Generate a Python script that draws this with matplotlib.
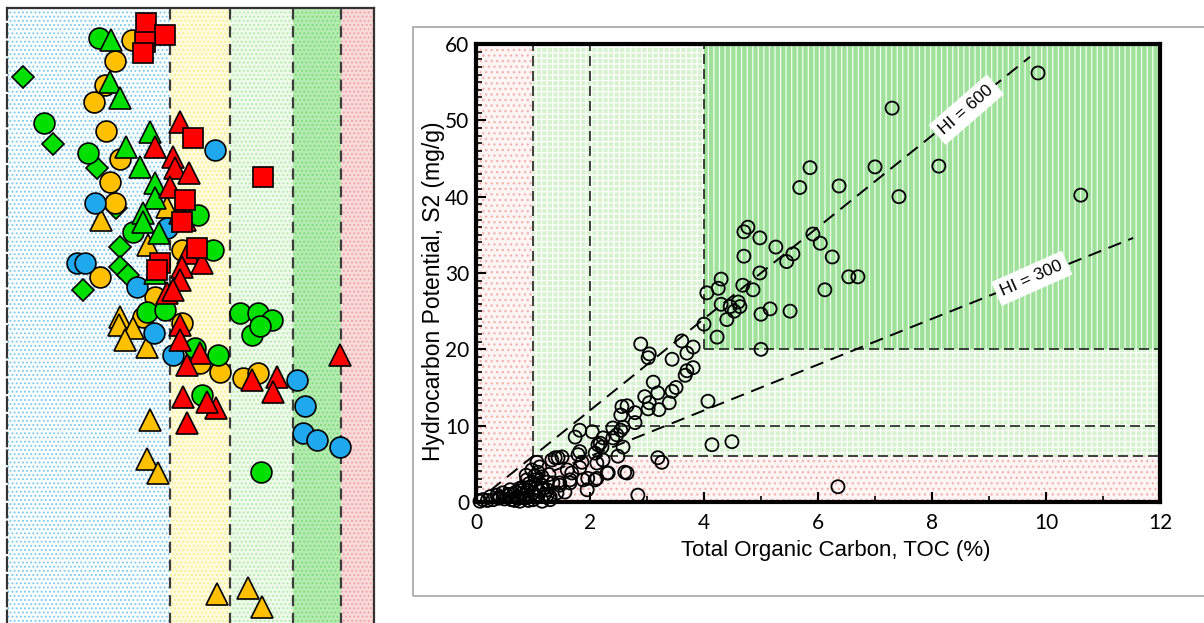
import numpy as np
import matplotlib.pyplot as plt
from matplotlib.patches import Rectangle

plt.rcParams.update({
    "font.family": "Liberation Sans",
    "hatch.linewidth": 0.9,
})

# ---------------- left strip: zones and samples (strip units) ----------------
zone_edges = [7, 170, 230, 293, 341, 374]
zone_faces = ["#ffffff", "#fffcdc", "#eefaea", "#b4ecb0", "#f9dada"]
zone_dots = ["#7ccbef", "#f4ec94", "#b4eaac", "#84d880", "#f0a4a4"]

red_sq_x = [146, 165, 145, 143, 193, 263, 185, 182, 197, 160, 157]
red_sq_y = [23, 35, 42, 53, 138, 177, 200, 222, 248, 263, 270]

red_tri_x = [180, 155, 173, 175, 189, 170, 180, 185, 188, 202, 182, 180, 167, 173,
             180, 180, 200, 187, 252, 277, 273, 340, 183, 216, 207, 187]
red_tri_y = [122, 147, 157, 168, 173, 187, 213, 220, 253, 263, 267, 280, 293, 290,
             325, 340, 353, 365, 380, 377, 392, 355, 397, 408, 402, 423]

grn_cir_x = [99, 44, 88, 198, 133, 213, 147, 165, 240, 258, 272, 252, 260, 195, 218, 202, 261]
grn_cir_y = [38, 123, 153, 215, 232, 250, 312, 310, 313, 313, 320, 335, 326, 348, 355, 395, 472]

grn_tri_x = [111, 110, 120, 150, 126, 140, 155, 155, 143, 143, 159, 155]
grn_tri_y = [40, 82, 98, 132, 147, 167, 183, 198, 213, 222, 233, 273]

grn_dia_x = [23, 53, 97, 116, 120, 120, 128, 83]
grn_dia_y = [77, 144, 168, 208, 247, 267, 275, 290]

org_cir_x = [132, 115, 105, 94, 106, 120, 110, 115, 182, 100, 155, 143, 182, 200, 220, 243, 258]
org_cir_y = [40, 61, 85, 102, 131, 159, 182, 203, 250, 277, 297, 317, 323, 363, 372, 378, 373]

org_tri_x = [101, 167, 148, 120, 119, 133, 125, 147, 150, 147, 158, 217, 248, 262]
org_tri_y = [220, 207, 245, 317, 325, 328, 340, 347, 420, 459, 473, 595, 588, 608]

blu_cir_x = [215, 95, 167, 77, 85, 137, 154, 173, 297, 305, 303, 317, 340]
blu_cir_y = [150, 203, 228, 263, 263, 287, 333, 355, 380, 406, 433, 440, 447]

# ---------------- right panel: TOC vs S2 ----------------
toc = [9.86, 7.30, 5.86, 7.00, 8.12, 5.68, 6.37, 7.42, 10.61, 4.77, 4.70, 4.98, 5.26,
       5.91, 6.04, 5.56, 5.45, 6.25, 4.70, 4.98, 6.54, 6.70, 4.30, 4.25, 4.68, 4.86,
       6.12, 4.05, 4.30, 4.46, 4.60, 4.63, 4.53, 4.40, 5.00, 5.16, 5.51, 4.00, 4.23,
       5.00, 3.81, 6.35,
       2.89, 3.04, 3.02, 3.44, 3.61, 3.70, 3.81, 3.70, 3.67, 3.11, 3.19, 3.44, 3.51,
       2.96, 3.04, 3.02, 3.21, 3.39, 4.07, 2.56, 2.65, 2.54, 2.79, 2.58, 2.79, 2.40,
       2.54, 2.04, 1.82, 1.74, 2.23, 2.18, 2.21, 2.40, 2.58, 2.49, 4.14, 4.49, 3.19,
       3.26, 1.79, 1.86, 2.12, 1.82, 2.32, 2.65, 1.51, 1.68, 1.65, 1.96, 2.12, 1.95,
       1.56, 2.84, 1.47, 2.47, 2.14, 2.09, 2.23, 1.82, 1.39, 1.33, 1.44, 1.60, 1.88,
       2.09, 2.30, 2.61, 1.07, 1.09, 1.16, 1.04, 1.25, 0.89, 1.35, 1.47, 1.65, 0.77,
       0.60, 0.47, 0.37, 0.25, 0.12, 0.07, 1.07, 1.25, 1.42, 1.30, 0.72, 0.86, 1.00,
       1.16, 0.77, 1.30, 1.25, 0.50, 0.55, 0.62, 0.66, 0.70, 0.75, 0.80, 0.85, 0.90,
       0.95, 1.00, 1.05, 1.10, 1.15, 1.20, 0.30, 0.20, 0.42, 0.92, 0.88, 1.12, 0.98,
       0.58, 0.68, 0.82, 1.03, 1.18, 1.28, 0.93, 0.40]
s2 = [56.2, 51.6, 43.8, 43.9, 44.0, 41.2, 41.4, 40.0, 40.2, 36.0, 35.4, 34.6, 33.4,
      35.1, 33.9, 32.5, 31.5, 32.1, 32.2, 30.0, 29.5, 29.5, 29.2, 28.0, 28.4, 27.8,
      27.8, 27.4, 25.9, 25.6, 26.2, 25.6, 25.0, 23.9, 24.6, 25.3, 25.0, 23.3, 21.6,
      20.0, 20.3, 2.0,
      20.7, 19.4, 18.9, 18.7, 21.1, 19.5, 17.6, 17.2, 16.6, 15.7, 14.3, 14.5, 15.0,
      13.8, 13.0, 12.2, 12.1, 13.0, 13.2, 12.5, 12.6, 11.4, 11.7, 9.8, 10.4, 9.7,
      9.4, 9.2, 9.4, 8.5, 8.4, 7.7, 7.2, 8.4, 7.2, 6.0, 7.5, 7.9, 5.8,
      5.2, 6.2, 5.2, 5.1, 4.5, 3.8, 3.8, 5.9, 3.8, 2.9, 3.1, 3.1, 1.6,
      1.3, 0.9, 2.5, 8.8, 7.5, 6.4, 5.5, 6.6, 5.8, 5.5, 5.8, 4.2, 2.9,
      2.9, 3.8, 3.9, 5.2, 3.9, 3.3, 2.9, 2.6, 2.9, 2.5, 2.2, 2.5, 1.8,
      1.6, 1.2, 0.9, 0.7, 0.3, 0.1, 1.8, 1.6, 1.2, 0.7, 0.7, 0.5, 0.3,
      0.1, 0.1, 0.3, 0.9, 0.4, 0.8, 0.3, 1.0, 1.3, 0.5, 1.1, 0.9, 1.5,
      2.0, 1.2, 0.8, 1.5, 2.2, 1.0, 0.3, 0.2, 0.6, 0.2, 3.5, 4.6, 4.2,
      1.0, 0.2, 1.9, 3.4, 1.8, 3.6, 2.4, 0.5]

bound_toc = [1, 2, 4]
bound_s2 = [6, 10, 20]
hi_lines = [600, 300]
hi_toc_range = [(0.25, 9.72), (0.3, 11.53)]

fig = plt.figure(figsize=(12.04, 6.23), dpi=100)

# ---------- left strip ----------
axL = fig.add_axes([7 / 1204, -0.02, 367 / 1204, 1 - 8 / 623 + 0.02])
for i in range(len(zone_faces)):
    axL.axvspan(zone_edges[i], zone_edges[i + 1], facecolor=zone_faces[i],
                edgecolor=zone_dots[i], hatch="....", lw=0, zorder=0)
for xe in zone_edges[1:-1]:
    axL.axvline(xe, color="#3c3c3c", lw=1.6, ls=(0, (5, 3)), zorder=1)

mk = dict(ls="none", mec="black", mew=1.2, zorder=3)
axL.plot(grn_dia_x, grn_dia_y, "D", ms=11, mfc="#00e000", **mk)
axL.plot(org_cir_x, org_cir_y, "o", ms=15, mfc="#ffc000", **mk)
axL.plot(org_tri_x, org_tri_y, "^", ms=16, mfc="#ffc000", **mk)
axL.plot(blu_cir_x, blu_cir_y, "o", ms=15, mfc="#1fa8ee", **mk)
axL.plot(grn_cir_x, grn_cir_y, "o", ms=15, mfc="#00e000", **mk)
axL.plot(grn_tri_x, grn_tri_y, "^", ms=16, mfc="#00e000", **mk)
axL.plot(red_tri_x, red_tri_y, "^", ms=16, mfc="#ff0000", **mk)
axL.plot(red_sq_x, red_sq_y, "s", ms=15, mfc="#ff0000", **mk)

axL.set_xlim(zone_edges[0], zone_edges[-1])
axL.set_ylim(636, 8)
axL.set_xticks([])
axL.set_yticks([])
for side in ["top", "right", "left"]:
    axL.spines[side].set_color("#333333")
    axL.spines[side].set_linewidth(1.6)
axL.spines["left"].set_linestyle((0, (6, 2)))
axL.spines["bottom"].set_visible(False)

# ---------- right panel ----------
fig.add_artist(Rectangle((413 / 1204, 27 / 623), 1.0, 569 / 623, transform=fig.transFigure,
                         fill=False, ec="#a6a6a6", lw=1.2))

axR = fig.add_axes([476 / 1204, 121 / 623, 684 / 1204, 458 / 623])
axR.add_patch(Rectangle((0, 0), 12, 60, facecolor="#fdf4f4", edgecolor="#f3b0b0",
                        hatch="...", lw=0, zorder=0))
axR.add_patch(Rectangle((bound_toc[0], bound_s2[0]), 12 - bound_toc[0], 60 - bound_s2[0],
                        facecolor="#d6f2cf", edgecolor="white", hatch="+++", lw=0, zorder=0))
axR.add_patch(Rectangle((bound_toc[2], bound_s2[2]), 12 - bound_toc[2], 60 - bound_s2[2],
                        facecolor="#9fe09b", edgecolor="#f2fff0", hatch="|||", lw=0, zorder=0))

for bt, bs in zip(bound_toc, bound_s2):
    axR.plot([bt, bt], [bs, 60], color="#222222", lw=1.2, ls=(0, (6, 3)), zorder=2)
    axR.plot([bt, 12], [bs, bs], color="#222222", lw=1.2, ls=(0, (6, 3)), zorder=2)

for hi, (x0, x1) in zip(hi_lines, hi_toc_range):
    xs = np.array([x0, x1])
    axR.plot(xs, xs * hi / 100, color="black", lw=1.4, ls=(0, (7, 4)), zorder=3)

axR.text(8.6, 51.4, "HI = 600", rotation=41, ha="center", va="center", fontsize=12.5,
         bbox=dict(fc="white", ec="none", pad=4), zorder=4)
axR.text(9.75, 29.3, "HI = 300", rotation=24, ha="center", va="center", fontsize=12.5,
         bbox=dict(fc="white", ec="none", pad=4), zorder=4)

axR.scatter(toc, s2, s=88, facecolors="none", edgecolors="black", linewidths=1.3,
            zorder=5, clip_on=False)

axR.set_xlim(0, 12)
axR.set_ylim(0, 60)
axR.set_xticks(np.arange(0, 13, 2))
axR.set_xticks(np.arange(0, 13, 1), minor=True)
axR.set_yticks(np.arange(0, 61, 10))
axR.set_yticks(np.arange(0, 61, 1), minor=True)
axR.tick_params(which="major", direction="in", length=7, width=1.5, labelsize=15,
                labelfontfamily="Lato", pad=8)
axR.tick_params(axis="y", which="major", pad=5)
axR.tick_params(which="minor", direction="in", length=4, width=1.2)
for sp in axR.spines.values():
    sp.set_linewidth(3)
axR.set_xlabel("Total Organic Carbon, TOC (%)", fontsize=16)
axR.set_ylabel("Hydrocarbon Potential, S2 (mg/g)", fontsize=16.5)
axR.xaxis.set_label_coords(0.526, -0.082)
axR.yaxis.set_label_coords(-0.045, 0.46)

fig.savefig("out.png", dpi=100)
